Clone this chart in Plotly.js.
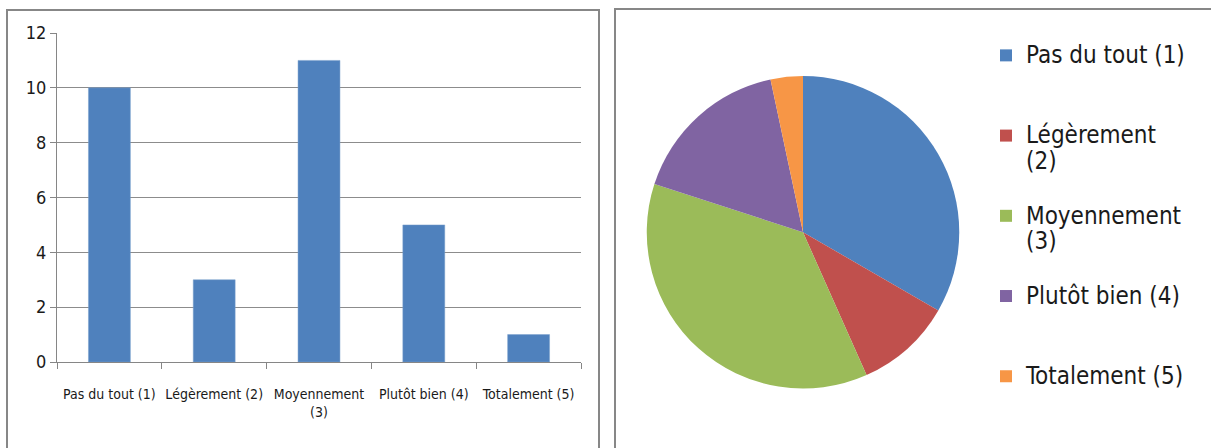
<!DOCTYPE html>
<html><head><meta charset="utf-8">
<script src="https://cdn.plot.ly/plotly-3.0.1.min.js"></script>
<style>html,body{margin:0;padding:0;background:#fff}#chart{width:1211px;height:448px}</style>
</head><body><div id="chart"></div>
<script>
var categories = ["Pas du tout (1)", "Légèrement (2)", "Moyennement<br>(3)", "Plutôt bien (4)", "Totalement (5)"];
var counts = [10, 3, 11, 5, 1];
var legendLabels = ["Pas du tout (1)", "Légèrement<br>(2)", "Moyennement<br>(3)", "Plutôt bien (4)", "Totalement (5)"];
var sliceColors = ["#4F81BD", "#C0504D", "#9BBB59", "#8064A2", "#F79646"];
var yTicks = [0, 2, 4, 6, 8, 10, 12];

var FONT = "'Liberation Sans Narrow', 'DejaVu Sans Condensed', 'Roboto Condensed', Arial, sans-serif";
var W = 1211, H = 448;
function px(x){return x/W;}
function py(y){return 1 - y/H;}

// pad every legend entry to three lines so entries are evenly spaced, text shown larger
var pieLabels = legendLabels.map(function(s){
  var n = s.split("<br>").length;
  var pad = "";
  for (var i = n; i < 3; i++) pad += "<br>\u00a0";
  return '<span style="font-size:24px">' + s.split("<br>").join('</span><br><span style="font-size:24px">') + '</span>' + pad;
});

var data = [
  {type:"bar", x:categories, y:counts, marker:{color:"#4F81BD", line:{color:"#7BA0CD", width:0.5}},
   xaxis:"x", yaxis:"y", showlegend:false, hoverinfo:"x+y"},
  {type:"pie", labels:pieLabels, values:counts, marker:{colors:sliceColors, line:{width:0}},
   sort:false, direction:"clockwise", rotation:0, textinfo:"none",
   domain:{x:[px(645), px(961)], y:[py(388.5), py(76)]}, showlegend:true}
];

var layout = {
  width:W, height:H, margin:{l:0,r:0,t:0,b:0},
  paper_bgcolor:"#fff", plot_bgcolor:"#fff",
  font:{family:FONT, color:"#1a1a1a"},
  bargap:0.6,
  xaxis:{domain:[px(57), px(581)], anchor:"y", showline:true, linecolor:"#868686", linewidth:1,
         ticks:"outside", ticklen:6, tickcolor:"#868686", tickson:"boundaries", tickangle:0,
         showgrid:false, tickfont:{size:14, family:FONT, color:"#1a1a1a"}, ticklabelstandoff:19, fixedrange:true},
  yaxis:{domain:[py(362), py(33)], anchor:"x", range:[0,12], tickvals:yTicks, showline:true,
         linecolor:"#868686", linewidth:1, ticks:"outside", ticklen:6, tickcolor:"#868686",
         showgrid:true, gridcolor:"#8c8c8c", gridwidth:1, zeroline:false,
         tickfont:{size:18, family:FONT, color:"#1a1a1a"}, fixedrange:true},
  legend:{x:px(986), xanchor:"left", y:py(40), yanchor:"top", font:{size:19.8, family:FONT, color:"#1a1a1a"},
          valign:"top", itemclick:false, itemdoubleclick:false, bgcolor:"rgba(0,0,0,0)", tracegroupgap:0},
  shapes:[
    {type:"rect", xref:"paper", yref:"paper", x0:px(7), x1:px(599), y0:py(460), y1:py(10), line:{color:"#878787", width:2}},
    {type:"rect", xref:"paper", yref:"paper", x0:px(615), x1:px(1225), y0:py(460), y1:py(9), line:{color:"#878787", width:2}}
  ]
};
Plotly.newPlot("chart", data, layout, {displayModeBar:false});
</script></body></html>
